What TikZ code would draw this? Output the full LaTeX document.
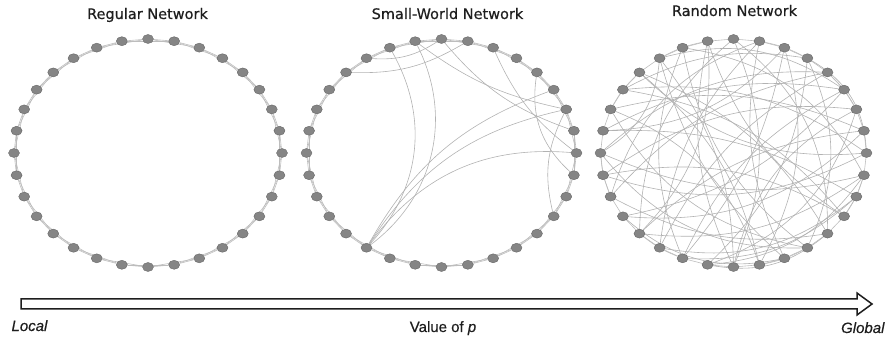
\documentclass[tikz,border=0pt]{standalone}
\usepackage{fontspec}
\setmainfont{DejaVu Sans}
\newfontfamily\titlefont{DejaVu Sans}[BoldFont={DejaVu Sans}, BoldFeatures={FakeBold=0.5}]
\newfontfamily\labelfont{Liberation Sans}[BoldFont={Liberation Sans}, BoldFeatures={FakeBold=0.4},
  BoldItalicFont={Liberation Sans Italic}, BoldItalicFeatures={FakeBold=0.4}]
\usetikzlibrary{shapes.geometric}
\pgfdeclarelayer{edges}
\pgfsetlayers{edges,main}
\definecolor{nodefill}{HTML}{858585}
\definecolor{nodeline}{HTML}{666666}
\definecolor{linkgray}{HTML}{BDBDBD}
\definecolor{chordgray}{HTML}{B2B2B2}
\definecolor{inkgray}{HTML}{1E1E1E}
\tikzset{
  vertex/.style={shape=ellipse, minimum width=11pt, minimum height=9pt, inner sep=0pt,
                 fill=nodefill, draw=nodeline, line width=0.4pt},
  link/.style={draw=linkgray, line width=0.6pt},
  chord/.style={draw=chordgray, line width=0.6pt},
  title/.style={anchor=base, text=inkgray, font=\titlefont\bfseries\fontsize{14.5}{16}\selectfont},
  axislabel/.style={anchor=base, text=inkgray, font=\labelfont\bfseries\fontsize{15}{17}\selectfont},
  blockarrow/.style={draw=inkgray, line width=1.5pt, fill=white, line join=miter},
}
\begin{document}
\begin{tikzpicture}[x=1pt, y=-1pt]
\useasboundingbox (0,0) rectangle (895,339);

% titles
\node[title] (t1) at (147.5,19) {Regular Network};
\node[title] (t2) at (447.5,19) {Small-World Network};
\node[title] (t3) at (734.5,16) {Random Network};

% vertices of the three rings, numbered clockwise from the top
\foreach \i in {0,...,31}{
  \pgfmathsetmacro\a{90-11.25*\i}
  \node[vertex] (r\i) at ({148+134*cos(\a)},{153-114*sin(\a)}) {};
  \node[vertex] (s\i) at ({441.5+135*cos(\a)},{153-114*sin(\a)}) {};
  \node[vertex] (n\i) at ({733.5+133*cos(\a)},{153-114*sin(\a)}) {};
}

\begin{pgfonlayer}{edges}
% ring lattices: each vertex joined to its two nearest neighbours on each side
\foreach \i [evaluate=\i as \j using {int(mod(\i+1,32))},
             evaluate=\i as \k using {int(mod(\i+2,32))}] in {0,...,31}{
  \draw[link] (r\i) -- (r\j);
  \draw[link] (r\i) -- (r\k);
  \draw[link] (s\i) -- (s\j);
  \draw[link] (s\i) -- (s\k);
  \draw[link] (n\i) -- (n\j);
}
% a few extra short links in the random ring
\foreach \a/\b in {1/3,4/6,9/11,13/15,18/20,22/24,26/28,29/31}{
  \draw[link] (n\a) to[bend left=8] (n\b);
}
% rewired shortcuts of the small-world network, all bowing towards the centre
\foreach \a/\b/\c in {19/30/36, 19/31/40, 29/0/18, 28/1/16, 31/6/12, 0/7/15,
                      4/9/28, 6/11/20, 2/8/14}{
  \draw[chord] (s\a) to[bend right=\c] (s\b);
}
\foreach \a/\b/\c in {19/5/20, 19/8/29, 19/6/22}{
  \draw[chord] (s\a) to[bend left=\c] (s\b);
}
% random network links
\foreach \a/\b/\c in {0/16/22, 20/0/24, 1/14/-18, 22/1/26, 2/18/14, 25/2/-22,
                      3/13/24, 27/3/18, 4/19/-16, 24/4/22, 5/21/18, 29/5/24,
                      6/23/-20, 6/17/26, 26/7/18, 7/20/-18, 8/23/22, 28/8/-24,
                      9/24/18, 30/9/26, 10/25/-16, 10/19/24, 27/11/20, 31/11/-18,
                      12/22/18, 12/0/-26, 13/26/24, 30/13/-20, 14/29/16, 14/21/26,
                      15/28/-18, 2/15/22, 16/31/18, 6/16/-24, 3/17/20, 9/17/24,
                      5/18/-18, 10/18/22, 19/1/18, 20/9/-20, 7/21/24, 22/4/18,
                      11/23/-20, 13/24/26, 25/5/18, 15/26/-24, 27/8/20, 28/12/18,
                      16/29/-18, 18/30/22, 31/20/24, 3/8/28, 24/29/-26, 12/17/24}{
  \draw[chord] (n\a) to[bend left=\c] (n\b);
}
\end{pgfonlayer}

% axis: hollow block arrow from local to global
\draw[blockarrow] (21,299) -- (857,299) -- (857,293) -- (872,304)
  -- (857,315) -- (857,309) -- (21,309) -- cycle;
\node[axislabel, anchor=base west] (loc) at (8,331) {\itshape Local};
\node[axislabel] (val) at (443,332) {Value of \itshape p};
\node[axislabel, anchor=base east] (glo) at (888,333) {\itshape Global};
\end{tikzpicture}
\end{document}
